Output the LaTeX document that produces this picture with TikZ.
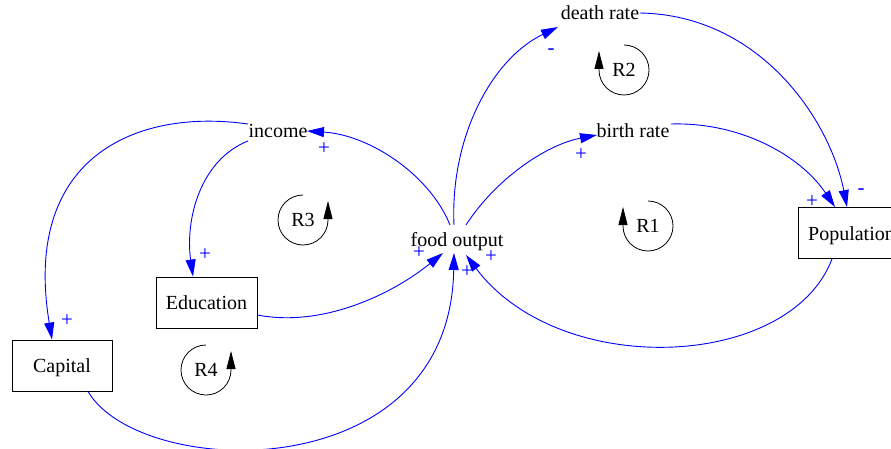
\documentclass[tikz,border=0pt]{standalone}
\usepackage{fontspec}
\setmainfont{Liberation Serif}
\usetikzlibrary{calc,arrows.meta}
\tikzset{
  var/.style={font=\fontsize{20}{24}\selectfont, inner sep=0pt, anchor=base},
  stock/.style={draw, line width=0.9pt, font=\fontsize{20}{24}\selectfont, minimum width=100pt, minimum height=51pt, inner xsep=10pt, text height=14pt, text depth=0pt},
  link/.style={draw=blue, line width=0.9pt, -{Triangle[length=17pt,width=10pt,fill=blue]}},
  sign/.style={text=blue, font=\fontsize{21}{24}\selectfont, inner sep=0pt},
  looplabel/.style={font=\fontsize{20}{24}\selectfont, inner sep=0pt},
  loopline/.style={draw=black, line width=0.8pt, -{Triangle[length=18pt,width=9pt]}}
}
\begin{document}
\begin{tikzpicture}[x=1pt,y=1pt]
\useasboundingbox (0,0) rectangle (891,448);
\clip (0,0) rectangle (891,448);
% variables
\node[var] (death) at (600,428) {death rate};
\node[var] (birth) at (633,310) {birth rate};
\node[var] (income) at (278,311) {income};
\node[var] (food) at (457,202) {food output};
\node[stock] (pop) at (851.5,215) {Population};
\node[stock] (edu) at (206.5,145.5) {Education};
\node[stock] (cap) at (62,82.5) {Capital};
% loops
\node[looplabel] (r1) at (648,222) {R1};
\node[looplabel] (r2) at (624,378) {R2};
\node[looplabel] (r3) at (303,228) {R3};
\node[looplabel] (r4) at (206,78) {R4};
\draw[loopline] ([shift={(90:25)}]r1.center) arc[start angle=90, end angle=-180, radius=25] -- ++(0,19);
\draw[loopline] ([shift={(90:25)}]r2.center) arc[start angle=90, end angle=-180, radius=25] -- ++(0,19);
\draw[loopline] ([shift={(90:25)}]r3.center) arc[start angle=90, end angle=360, radius=25] -- ++(0,19);
\draw[loopline] ([shift={(90:25)}]r4.center) arc[start angle=90, end angle=360, radius=25] -- ++(0,19);
% links
\draw[link] ($(food.base)+(-7,21)$) .. controls (430,273) and (370,313) .. ($(income.base)+(29,6)$);
\draw[link] ($(food.base)+(-3,21)$) .. controls (450,308) and (490,388) .. ($(death.base)+(-42,-7)$);
\draw[link] ($(food.base)+(9,21)$) .. controls (495,268) and (545,303) .. ($(birth.base)+(-36,3)$);
\draw[link] ($(death.base)+(40,7)$) .. controls (760,433) and (830,328) .. ($(pop.north)+(-4.5,0)$);
\draw[link] ($(birth.base)+(38,14)$) .. controls (740,326) and (800,293) .. ($(pop.north)+(-16.5,0)$);
\draw[link] ($(pop.south)+(-19.5,0)$) .. controls (790,78) and (560,68) .. ($(food.base)+(9,-9)$);
\draw[link] ($(income.base)+(-30,-4)$) .. controls (200,288) and (185,228) .. ($(edu.north)+(-13.5,0)$);
\draw[link] ($(income.base)+(-30,13)$) .. controls (135,340) and (22,290) .. ($(cap.north)+(-10,0)$);
\draw[link] ($(edu.east)+(0,-12.5)$) .. controls (325,120) and (395,156) .. ($(food.base)+(-14,-7)$);
\draw[link] ($(cap.south)+(26,0)$) .. controls (140,-32) and (450,-42) .. ($(food.base)+(-3,-7)$);
% signs
\node[sign] (s1) at (324,299) {+};
\node[sign] (s2) at (551,396) {-};
\node[sign] (s3) at (581,293) {+};
\node[sign] (s4) at (812,246) {+};
\node[sign] (s5) at (861,256) {-};
\node[sign] (s6) at (205,193) {+};
\node[sign] (s7) at (67,127) {+};
\node[sign] (s8) at (419,195) {+};
\node[sign] (s9) at (467,176) {+};
\node[sign] (s10) at (491,191) {+};
\end{tikzpicture}
\end{document}
